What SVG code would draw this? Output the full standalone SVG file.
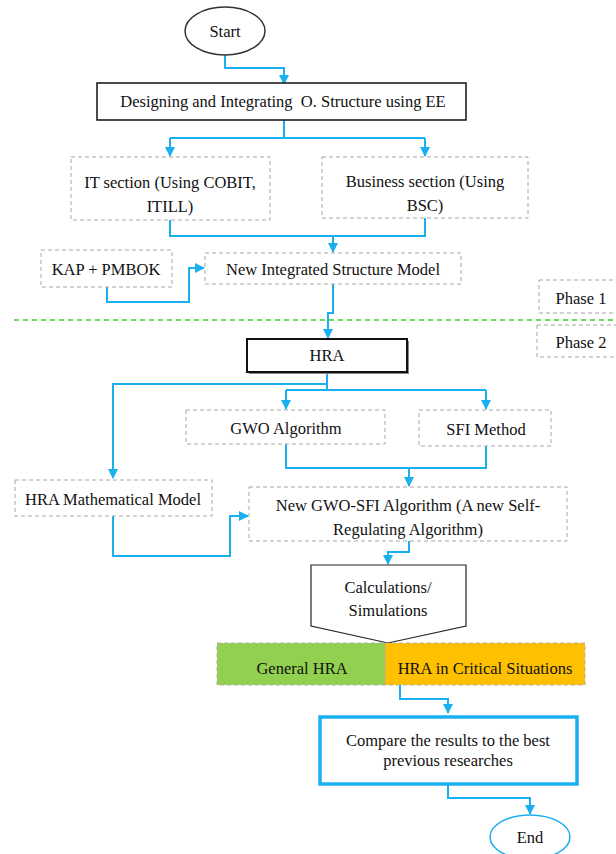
<svg xmlns="http://www.w3.org/2000/svg" width="616" height="854" viewBox="0 0 616 854">
<style>
.dash{fill:#fff;stroke:#a6a6a6;stroke-width:1;stroke-dasharray:4 3}
.solid{fill:#fff;stroke:#111;stroke-width:1.5}
.c{fill:none;stroke:#1ab0ef;stroke-width:2}
</style>
<defs>
<marker id="ah" viewBox="0 0 10 10" refX="9" refY="5" markerWidth="5" markerHeight="5" orient="auto" markerUnits="strokeWidth">
<path d="M0,0 L10,5 L0,10 z" fill="#1ab0ef"/>
</marker>
</defs>
<rect width="616" height="854" fill="#fff"/>
<line x1="14" y1="320" x2="616" y2="320" stroke="#66e05a" stroke-width="2" stroke-dasharray="5 4"/>
<g id="connectors">
<path class="c" d="M225,55 V68 H284 V84" marker-end="url(#ah)"/>
<path class="c" d="M284,120 V138"/>
<path class="c" d="M170,138 H425"/>
<path class="c" d="M170,138 V156" marker-end="url(#ah)"/>
<path class="c" d="M425,138 V156" marker-end="url(#ah)"/>
<path class="c" d="M170,220 V236 H425 V218"/>
<path class="c" d="M333,236 V252" marker-end="url(#ah)"/>
<path class="c" d="M107,287 V302 H189 V268 H204" marker-end="url(#ah)"/>
<path class="c" d="M333,284 V313 H328 V338" marker-end="url(#ah)"/>
<path class="c" d="M327,372 V390"/>
<path class="c" d="M327,384 H113 V478" marker-end="url(#ah)"/>
<path class="c" d="M286,390 H486"/>
<path class="c" d="M286,390 V409" marker-end="url(#ah)"/>
<path class="c" d="M486,390 V409" marker-end="url(#ah)"/>
<path class="c" d="M286,444 V468 H486 V446"/>
<path class="c" d="M409,468 V486" marker-end="url(#ah)"/>
<path class="c" d="M113,516 V556 H230 V516 H248" marker-end="url(#ah)"/>
<path class="c" d="M409,541 V552 H388 V564" marker-end="url(#ah)"/>
<path class="c" d="M400,685 V699 H448 V713" marker-end="url(#ah)"/>
<path class="c" d="M448,785 V798 H530 V814" marker-end="url(#ah)"/>
</g>
<g id="start">
<ellipse cx="225" cy="31" rx="40" ry="24" fill="#fff" stroke="#333" stroke-width="1.5"/>
<text x="225" y="37" font-family="Liberation Serif" font-size="16.5" text-anchor="middle" fill="#111">Start</text>
</g>
<g id="designing">
<rect class="solid" x="97" y="83" width="369" height="37"/>
<text x="283" y="107" font-family="Liberation Serif" font-size="16.5" text-anchor="middle" fill="#111" xml:space="preserve">Designing and Integrating  O. Structure using EE</text>
</g>
<g id="it">
<rect class="dash" x="71" y="157" width="199" height="63"/>
<text x="170" y="188" font-family="Liberation Serif" font-size="16.5" text-anchor="middle" fill="#111">IT section (Using COBIT,</text>
<text x="170" y="212" font-family="Liberation Serif" font-size="16.5" text-anchor="middle" fill="#111">ITILL)</text>
</g>
<g id="business">
<rect class="dash" x="322" y="157" width="206" height="61"/>
<text x="425" y="187" font-family="Liberation Serif" font-size="16.5" text-anchor="middle" fill="#111">Business section (Using</text>
<text x="425" y="211" font-family="Liberation Serif" font-size="16.5" text-anchor="middle" fill="#111">BSC)</text>
</g>
<g id="kap">
<rect class="dash" x="41" y="250" width="131" height="37"/>
<text x="106" y="275" font-family="Liberation Serif" font-size="16.5" text-anchor="middle" fill="#111">KAP + PMBOK</text>
</g>
<g id="newintegrated">
<rect class="dash" x="205" y="253" width="256" height="31"/>
<text x="333" y="275" font-family="Liberation Serif" font-size="16.5" text-anchor="middle" fill="#111">New Integrated Structure Model</text>
</g>
<g id="phase1">
<rect class="dash" x="539" y="280" width="80" height="33"/>
<text x="581" y="304" font-family="Liberation Serif" font-size="16.5" text-anchor="middle" fill="#111">Phase 1</text>
</g>
<g id="phase2">
<rect class="dash" x="537" y="325" width="82" height="32"/>
<text x="581" y="348" font-family="Liberation Serif" font-size="16.5" text-anchor="middle" fill="#111">Phase 2</text>
</g>
<g id="hra">
<rect x="249" y="341" width="160" height="33" fill="#888"/>
<rect x="247" y="339" width="160" height="33" fill="#fff" stroke="#111" stroke-width="2"/>
<text x="327" y="361" font-family="Liberation Serif" font-size="16.5" text-anchor="middle" fill="#111">HRA</text>
</g>
<g id="gwo">
<rect class="dash" x="186" y="410" width="199" height="34"/>
<text x="286" y="434" font-family="Liberation Serif" font-size="16.5" text-anchor="middle" fill="#111">GWO Algorithm</text>
</g>
<g id="sfi">
<rect class="dash" x="419" y="410" width="132" height="36"/>
<text x="486" y="435" font-family="Liberation Serif" font-size="16.5" text-anchor="middle" fill="#111">SFI Method</text>
</g>
<g id="hramath">
<rect class="dash" x="15" y="480" width="197" height="36"/>
<text x="113" y="505" font-family="Liberation Serif" font-size="16.5" text-anchor="middle" fill="#111">HRA Mathematical Model</text>
</g>
<g id="gwosfi">
<rect class="dash" x="249" y="487" width="318" height="54"/>
<text x="408" y="511" font-family="Liberation Serif" font-size="16.5" text-anchor="middle" fill="#111">New GWO-SFI Algorithm (A new Self-</text>
<text x="408" y="535" font-family="Liberation Serif" font-size="16.5" text-anchor="middle" fill="#111">Regulating Algorithm)</text>
</g>
<g id="calc">
<path d="M311,565 H466 V626 L388,643 L311,626 Z" fill="#fff" stroke="#222" stroke-width="1.2"/>
<text x="388" y="593" font-family="Liberation Serif" font-size="16.5" text-anchor="middle" fill="#111">Calculations/</text>
<text x="388" y="616" font-family="Liberation Serif" font-size="16.5" text-anchor="middle" fill="#111">Simulations</text>
</g>
<g id="general">
<rect x="217" y="643" width="168" height="42" fill="#92d050" stroke="#b0b0b0" stroke-dasharray="4 3"/>
<text x="302" y="674" font-family="Liberation Serif" font-size="16.5" text-anchor="middle" fill="#111">General HRA</text>
</g>
<g id="critical">
<rect x="385" y="643" width="200" height="42" fill="#ffc000" stroke="#b0b0b0" stroke-dasharray="4 3"/>
<text x="485" y="674" font-family="Liberation Serif" font-size="16.5" text-anchor="middle" fill="#111">HRA in Critical Situations</text>
</g>
<g id="compare">
<rect x="320" y="717" width="257" height="67" fill="#fff" stroke="#1ab0ef" stroke-width="3.5"/>
<text x="448" y="746" font-family="Liberation Serif" font-size="16.5" text-anchor="middle" fill="#111">Compare the results to the best</text>
<text x="448" y="766" font-family="Liberation Serif" font-size="16.5" text-anchor="middle" fill="#111">previous researches</text>
</g>
<g id="end">
<ellipse cx="530" cy="837" rx="40" ry="22" fill="#fff" stroke="#1ab0ef" stroke-width="1.5"/>
<text x="530" y="843" font-family="Liberation Serif" font-size="16.5" text-anchor="middle" fill="#111">End</text>
</g>
</svg>
